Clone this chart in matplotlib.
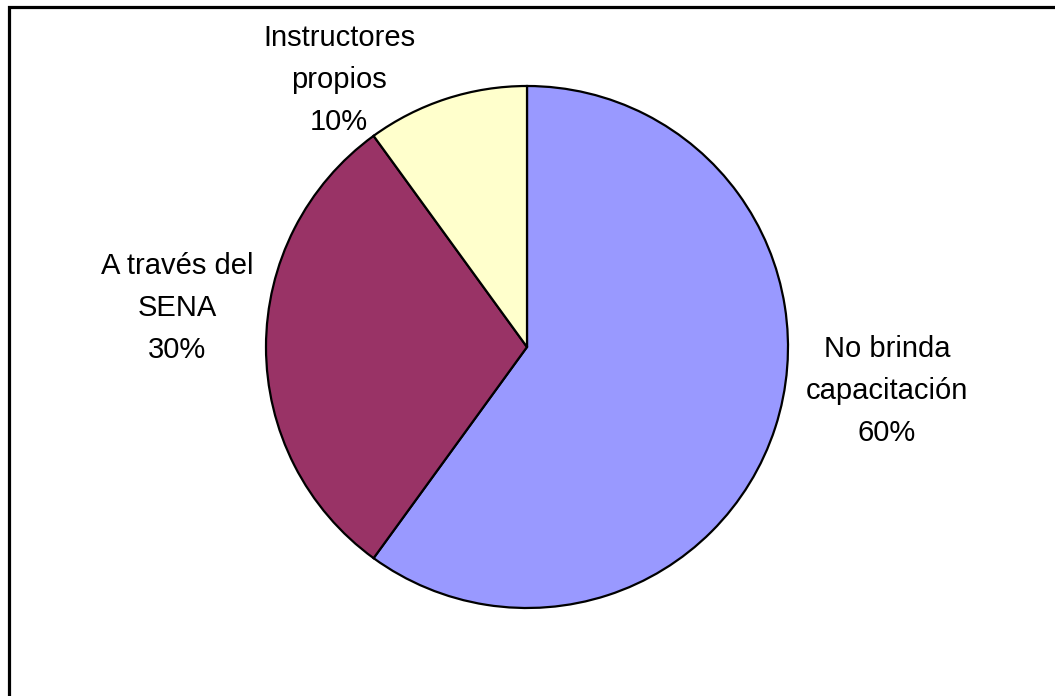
import matplotlib
matplotlib.use("Agg")
import matplotlib.pyplot as plt
from matplotlib.patches import Rectangle

categories = ["No brinda\ncapacitación", "A través del\nSENA", "Instructores\npropios"]
values = [60, 30, 10]
colors = ["#9999FF", "#993366", "#FFFFCC"]

W, H = 1055, 696
fig = plt.figure(figsize=(W / 100, H / 100), dpi=100)
ax = fig.add_axes([0, 0, 1, 1])

cx, cy, r = 527, H - 347, 261
ax.pie(values, colors=colors, startangle=90, counterclock=False,
       center=(cx, cy), radius=r, frame=True,
       wedgeprops=dict(edgecolor="black", linewidth=1.6))
ax.set_xlim(0, W)
ax.set_ylim(0, H)
ax.set_aspect("equal")
ax.axis("off")

# label anchor points (centre of each three-line block)
label_pos = [(887, H - 391), (177, H - 308), (339, H - 80)]
total = sum(values)
for name, v, (x, y) in zip(categories, values, label_pos):
    ax.text(x, y, f"{name}\n{round(100 * v / total)}%", ha="center", va="center",
            fontsize=21, family="Liberation Sans", linespacing=1.62, color="black")

# outer frame, partially cropped at right and bottom
ax.add_patch(Rectangle((8.5, -20), W + 40, H - 6.5 + 20, fill=False,
                       edgecolor="black", linewidth=2.3, clip_on=False))

fig.savefig("out.png", dpi=100)
